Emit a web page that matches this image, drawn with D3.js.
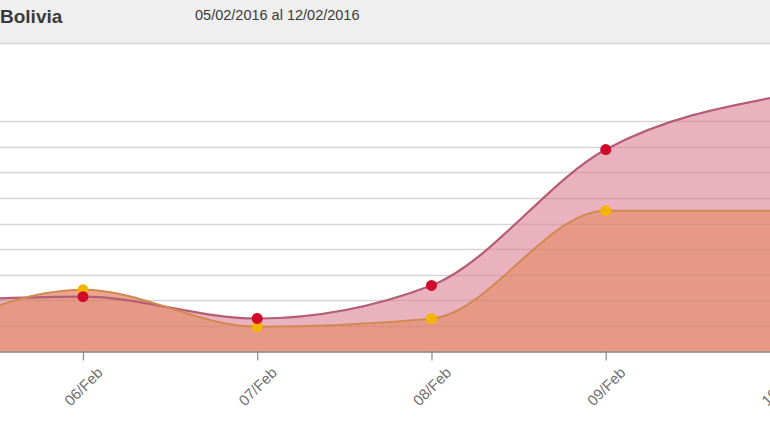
<!DOCTYPE html>
<html>
<head>
<meta charset="utf-8">
<script src="https://cdn.jsdelivr.net/npm/d3@7"></script>
<style>
  html, body { margin: 0; padding: 0; background: #fff; overflow: hidden; }
  svg { display: block; }
</style>
</head>
<body>
<svg id="chart" width="770" height="430"></svg>
<script>
// ---- data ----
const titleText = "Bolivia";
const rangeText = "05/02/2016 al 12/02/2016";
const days = ["05/Feb", "06/Feb", "07/Feb", "08/Feb", "09/Feb", "10/Feb"];
const redValues = [19.3, 21.4, 12.9, 25.8, 78.9, 99.7];
const yellowValues = [3.3, 24.1, 9.7, 12.8, 55.0, 55.0];
const gridTicks = [10, 20, 30, 40, 50, 60, 70, 80, 90];

// ---- layout ----
const W = 770, H = 430;
const svg = d3.select("#chart");

const x = d3.scalePoint().domain(days).range([-91.3, 780]);
const y = d3.scaleLinear().domain([0, 100]).range([351.5, 95.5]);

// header
svg.append("rect").attr("x", 0).attr("y", 0).attr("width", W).attr("height", 43)
  .attr("fill", "#efefef");
svg.append("line").attr("x1", 0).attr("x2", W).attr("y1", 43.5).attr("y2", 43.5)
  .attr("stroke", "#d6d6d6").attr("stroke-width", 1.5);
svg.append("text").attr("x", 0).attr("y", 22.5)
  .attr("font-family", "Liberation Sans, Arial, sans-serif")
  .attr("font-weight", "bold").attr("font-size", 19).attr("fill", "#3a3a3a")
  .text(titleText);
svg.append("text").attr("x", 195).attr("y", 20)
  .attr("font-family", "Liberation Sans, Arial, sans-serif")
  .attr("font-size", 14.5).attr("fill", "#3a3a3a")
  .text(rangeText);

const rows = days.map((d, i) => ({ d, r: redValues[i], yv: yellowValues[i] }));

const areaRed = d3.area().curve(d3.curveMonotoneX)
  .x(p => x(p.d)).y0(y(0)).y1(p => y(p.r));
const areaYellow = d3.area().curve(d3.curveMonotoneX)
  .x(p => x(p.d)).y0(y(0)).y1(p => y(p.yv));
const lineRed = d3.line().curve(d3.curveMonotoneX)
  .x(p => x(p.d)).y(p => y(p.r));
const lineYellow = d3.line().curve(d3.curveMonotoneX)
  .x(p => x(p.d)).y(p => y(p.yv));

// light gridlines beneath
svg.append("g").selectAll("line").data(gridTicks).join("line")
  .attr("x1", 0).attr("x2", W)
  .attr("y1", d => Math.round(y(d)) + 0.5).attr("y2", d => Math.round(y(d)) + 0.5)
  .attr("stroke", "#e3e3e3").attr("stroke-width", 1.6);

svg.append("path").datum(rows).attr("d", areaRed)
  .attr("fill", "#e6a3b3").attr("fill-opacity", 0.85);
svg.append("path").datum(rows).attr("d", areaYellow)
  .attr("fill", "#e8957d").attr("fill-opacity", 0.85);

// gridlines showing through the areas
svg.append("g").selectAll("line").data(gridTicks).join("line")
  .attr("x1", 0).attr("x2", W)
  .attr("y1", d => Math.round(y(d)) + 0.5).attr("y2", d => Math.round(y(d)) + 0.5)
  .attr("stroke", "#000").attr("stroke-opacity", 0.06).attr("stroke-width", 1.6);

svg.append("path").datum(rows).attr("d", lineRed)
  .attr("fill", "none").attr("stroke", "#b45e76").attr("stroke-width", 2.2);
svg.append("path").datum(rows).attr("d", lineYellow)
  .attr("fill", "none").attr("stroke", "#cf8a52").attr("stroke-width", 2);

// x axis (first day lies outside the visible window)
const axis = svg.append("g").attr("transform", `translate(0,${y(0)})`)
  .call(d3.axisBottom(x).tickValues(days.slice(1)).tickSize(9).tickSizeOuter(0));
axis.select(".domain").attr("stroke", "#8c7f7f").attr("stroke-width", 1.3)
  .attr("d", `M0,0.5H${W}`);
axis.selectAll(".tick line").attr("stroke", "#8a8a8a").attr("stroke-width", 1.2);
axis.selectAll(".tick text")
  .attr("font-family", "Liberation Sans, Arial, sans-serif")
  .attr("font-size", 15).attr("fill", "#707070")
  .attr("text-anchor", "middle").attr("dy", "0.35em")
  .attr("y", 0)
  .attr("transform", "translate(0,35) rotate(-45)");

// markers
svg.append("g").selectAll("circle").data(rows).join("circle")
  .attr("cx", p => x(p.d)).attr("cy", p => y(p.yv)).attr("r", 5.5)
  .attr("fill", "#f5b400");
svg.append("g").selectAll("circle").data(rows).join("circle")
  .attr("cx", p => x(p.d)).attr("cy", p => y(p.r)).attr("r", 5.5)
  .attr("fill", "#cf0a2a");
</script>
</body>
</html>
